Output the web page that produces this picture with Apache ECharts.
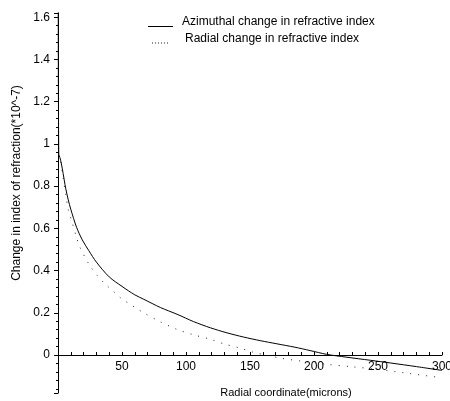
<!DOCTYPE html>
<html>
<head>
<meta charset="utf-8">
<script src="https://cdn.jsdelivr.net/npm/echarts@6/dist/echarts.min.js"></script>
<style>
  html, body { margin: 0; padding: 0; background: #fff; }
  #chart { width: 450px; height: 401px; }
</style>
</head>
<body>
<div id="chart"></div>
<script>
// values: [radial coordinate (microns), change *10^-7]
const azimuthal = [
  [0.2, 1.66], [0.6, 0.95], [1.5, 0.935], [2.5, 0.91], [4, 0.86], [6, 0.79],
  [8, 0.735], [10, 0.69], [14.5, 0.605], [19, 0.545], [24, 0.495], [30, 0.44],
  [40, 0.37], [50, 0.325], [60, 0.285], [67, 0.264], [80, 0.225], [93, 0.193],
  [106, 0.158], [119, 0.129], [132, 0.105], [145, 0.085], [158, 0.068],
  [171, 0.053], [185, 0.037], [197, 0.021], [210, 0.003], [225, -0.01],
  [244, -0.025], [260, -0.038], [280, -0.055], [300, -0.073]
];
const radial = [
  [0.5, 0.95], [2, 0.92], [4, 0.84], [6, 0.76], [8, 0.69], [10.7, 0.635],
  [14.6, 0.555], [17.2, 0.51], [23.7, 0.435], [30.2, 0.38], [36.7, 0.337],
  [43, 0.303], [49, 0.27], [55.7, 0.243], [61.5, 0.22], [68, 0.196],
  [80, 0.157], [92.7, 0.122], [105, 0.097], [118.8, 0.075], [130, 0.052],
  [142, 0.033], [152, 0.014], [162, 0], [175, -0.016], [190, -0.029],
  [210, -0.044], [230, -0.056], [250, -0.068], [275, -0.088], [300, -0.108]
];
const seriesNames = ['Azimuthal change in refractive index', 'Radial change in refractive index'];
const xTicks = [0, 50, 100, 150, 200, 250, 300];
const yTicks = [0, 0.2, 0.4, 0.6, 0.8, 1, 1.2, 1.4, 1.6];
const yMin = -0.18, yMax = 1.62;

const font = 'Liberation Sans, Arial, sans-serif';
const chart = echarts.init(document.getElementById('chart'));

// grid geometry, so the x axis can sit on y = 0 (labels included)
const gridTop = 13, gridBottom = 8;
const gridH = 401 - gridTop - gridBottom;
const xAxisOffset = -((0 - yMin) / (yMax - yMin)) * gridH;

// legend samples sit low, under the text middle (tiny corner keeps the box height)
const solidIcon = 'path://M0,0L0.01,0L0,0.01ZM0,9L25,9L25,10L0,10Z';
const dotIcon = 'path://M0,0L0.01,0L0,0.01ZM0,8h1v1h-1zM3,8h1v1h-1zM6,8h1v1h-1zM9,8h1v1h-1zM12,8h1v1h-1zM15,8h1v1h-1z';

chart.setOption({
  animation: false,
  backgroundColor: '#fff',
  grid: { left: 58, right: 8, top: gridTop, bottom: gridBottom, containLabel: false, outerBoundsMode: 'none' },
  legend: [
    {
      data: [seriesNames[0]],
      left: 148, top: 16, padding: 0,
      icon: solidIcon,
      itemWidth: 25, itemHeight: 10,
      textStyle: { fontFamily: font, fontSize: 12, color: '#000', padding: [0, 0, 0, 4] }
    },
    {
      data: [seriesNames[1]],
      left: 152, top: 33, padding: 0,
      icon: dotIcon,
      itemWidth: 16, itemHeight: 9,
      textStyle: { fontFamily: font, fontSize: 12, color: '#000', padding: [0, 0, 0, 12] }
    }
  ],
  xAxis: {
    type: 'value',
    min: xTicks[0],
    max: xTicks[xTicks.length - 1],
    interval: 50,
    offset: xAxisOffset,
    axisLine: { onZero: false, lineStyle: { color: '#000', width: 1 } },
    axisTick: { inside: true, length: 3, lineStyle: { color: '#000' } },
    minorTick: { show: true, splitNumber: 5, length: 3, lineStyle: { color: '#000' } },
    splitLine: { show: false },
    axisLabel: {
      showMinLabel: false,
      margin: 6,
      fontFamily: font, fontSize: 12, color: '#000',
      formatter: v => xTicks.includes(v) ? String(v) : ''
    }
  },
  yAxis: {
    type: 'value',
    min: yMin,
    max: yMax,
    splitNumber: 9,
    axisLine: { show: true, onZero: false, lineStyle: { color: '#000', width: 1 } },
    axisTick: { length: 4, lineStyle: { color: '#000' } },
    minorTick: { show: true, splitNumber: 5, length: 2, lineStyle: { color: '#000' } },
    splitLine: { show: false },
    axisLabel: {
      showMinLabel: false,
      showMaxLabel: false,
      margin: 8,
      fontFamily: font, fontSize: 12, color: '#000',
      formatter: v => {
        const t = yTicks.find(k => Math.abs(k - v) < 1e-6);
        return t === undefined ? '' : String(t);
      }
    }
  },
  graphic: [
    {
      type: 'text',
      x: 17, y: 183, rotation: Math.PI / 2,
      style: {
        text: 'Change in index of refraction(*10^-7)',
        font: '12px ' + font, fill: '#000',
        align: 'center', verticalAlign: 'middle'
      }
    },
    {
      type: 'text',
      x: 286, y: 393,
      style: {
        text: 'Radial coordinate(microns)',
        font: '11px ' + font, fill: '#000',
        align: 'center', verticalAlign: 'middle'
      }
    }
  ],
  series: [
    {
      name: seriesNames[0],
      type: 'line',
      data: azimuthal,
      symbol: 'none',
      smooth: 0.3,
      lineStyle: { color: '#000', width: 1 },
      itemStyle: { color: '#000' }
    },
    {
      name: seriesNames[1],
      type: 'line',
      data: radial,
      symbol: 'none',
      smooth: 0.3,
      lineStyle: { color: '#222', width: 1, type: [1, 7] },
      itemStyle: { color: '#222' }
    }
  ]
});

window.addEventListener('resize', () => chart.resize());
</script>
</body>
</html>
